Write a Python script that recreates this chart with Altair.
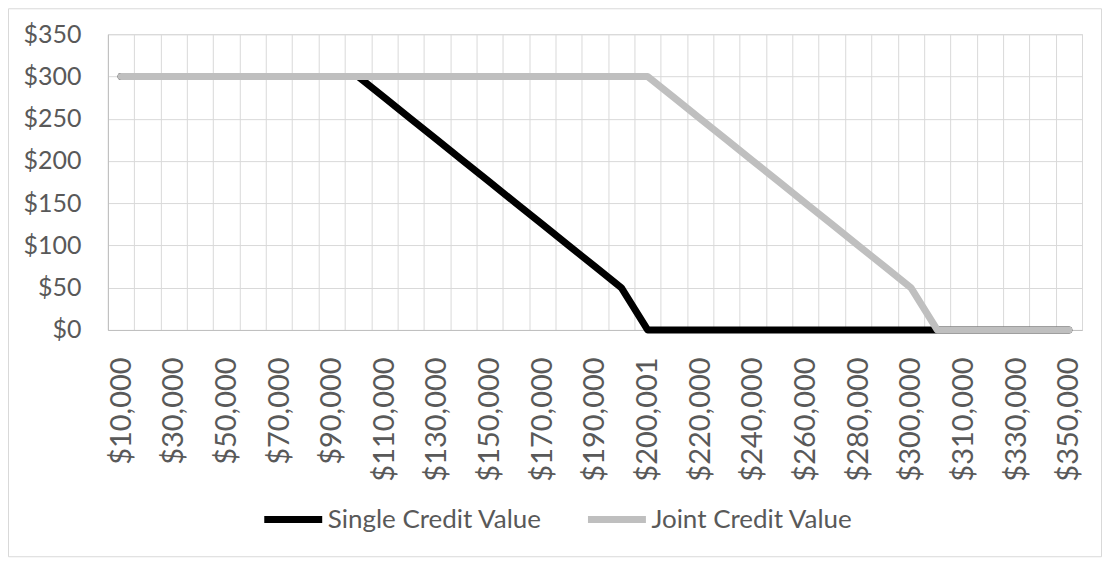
import json
import altair as alt
import pandas as pd

# ---- data ----
categories = [
    "$10,000", "$20,000", "$30,000", "$40,000", "$50,000", "$60,000", "$70,000",
    "$80,000", "$90,000", "$100,000", "$110,000", "$120,000", "$130,000", "$140,000",
    "$150,000", "$160,000", "$170,000", "$180,000", "$190,000", "$200,000", "$200,001",
    "$210,000", "$220,000", "$230,000", "$240,000", "$250,000", "$260,000", "$270,000",
    "$280,000", "$290,000", "$300,000", "$300,001", "$310,000", "$320,000", "$330,000",
    "$340,000", "$350,000",
]
single_values = [
    300, 300, 300, 300, 300, 300, 300, 300, 300, 300,
    275, 250, 225, 200, 175, 150, 125, 100, 75, 50,
    0, 0, 0, 0, 0, 0, 0, 0, 0, 0, 0, 0, 0, 0, 0, 0, 0,
]
joint_values = [
    300, 300, 300, 300, 300, 300, 300, 300, 300, 300,
    300, 300, 300, 300, 300, 300, 300, 300, 300, 300, 300,
    275, 250, 225, 200, 175, 150, 125, 100, 75, 50,
    0, 0, 0, 0, 0, 0,
]
series_names = ["Single Credit Value", "Joint Credit Value"]
series_colors = ["#000000", "#bfbfbf"]
shown_labels = categories[::2]
y_ticks = [0, 50, 100, 150, 200, 250, 300, 350]

rows = []
for c, v in zip(categories, single_values):
    rows.append({"income": c, "value": v, "series": series_names[0]})
for c, v in zip(categories, joint_values):
    rows.append({"income": c, "value": v, "series": series_names[1]})
df = pd.DataFrame(rows)

FONT = "Lato"
TXT = "#595959"

x_enc = alt.X(
    "income:N",
    sort=categories,
    bandPosition=0.5,
    scale=alt.Scale(type="band", paddingInner=0, paddingOuter=0),
    axis=alt.Axis(
        title=None,
        labelAngle=270,
        labelFont=FONT,
        labelFontSize=29,
        labelColor=TXT,
        labelPadding=27,
        labelExpr="indexof(" + json.dumps(shown_labels) + ", datum.value) >= 0 ? datum.label : ''",
        ticks=False,
        tickBand="extent",
        grid=True,
        gridColor="#d9d9d9",
        domainColor="#bfbfbf",
        labelOverlap=False,
    ),
)
y_enc = alt.Y(
    "value:Q",
    scale=alt.Scale(domain=[0, 350], nice=False),
    axis=alt.Axis(
        title=None,
        values=y_ticks,
        format="$,.0f",
        labelFont=FONT,
        labelFontSize=25,
        labelColor=TXT,
        labelPadding=27,
        ticks=False,
        grid=True,
        gridColor="#d9d9d9",
        domainColor="#bfbfbf",
        minExtent=80,
        maxExtent=80,
    ),
)
color_enc = alt.Color(
    "series:N",
    title=None,
    scale=alt.Scale(domain=series_names, range=series_colors),
    legend=alt.Legend(
        orient="none",
        direction="horizontal",
        legendX=153,
        legendY=453,
        symbolType="stroke",
        symbolStrokeWidth=7,
        symbolSize=3364,
        labelFont=FONT,
        labelFontSize=26,
        labelColor=TXT,
        labelOffset=2,
        labelLimit=500,
        columnPadding=31,
        padding=0,
    ),
)

base = alt.Chart(df).encode(x=x_enc, y=y_enc, color=color_enc)

single_line = base.transform_filter(
    alt.datum.series == series_names[0]
).mark_line(strokeWidth=7, strokeCap="round", strokeJoin="round")
joint_line = base.transform_filter(
    alt.datum.series == series_names[1]
).mark_line(strokeWidth=7, strokeCap="round", strokeJoin="round")

frame = alt.Chart(alt.Data(values=[{}])).mark_rect(
    fillOpacity=0, stroke="#d9d9d9", strokeWidth=1
).encode(
    x=alt.value(-99.5), x2=alt.value(994.5), y=alt.value(-25.5), y2=alt.value(523)
)

chart = alt.layer(frame, single_line, joint_line).properties(
    width=975,
    height=296,
    padding={"left": 0, "top": 0, "right": 0, "bottom": 0},
).configure_view(stroke="#d9d9d9")

chart.save("out.html", embed_options={"renderer": "svg", "actions": False})
